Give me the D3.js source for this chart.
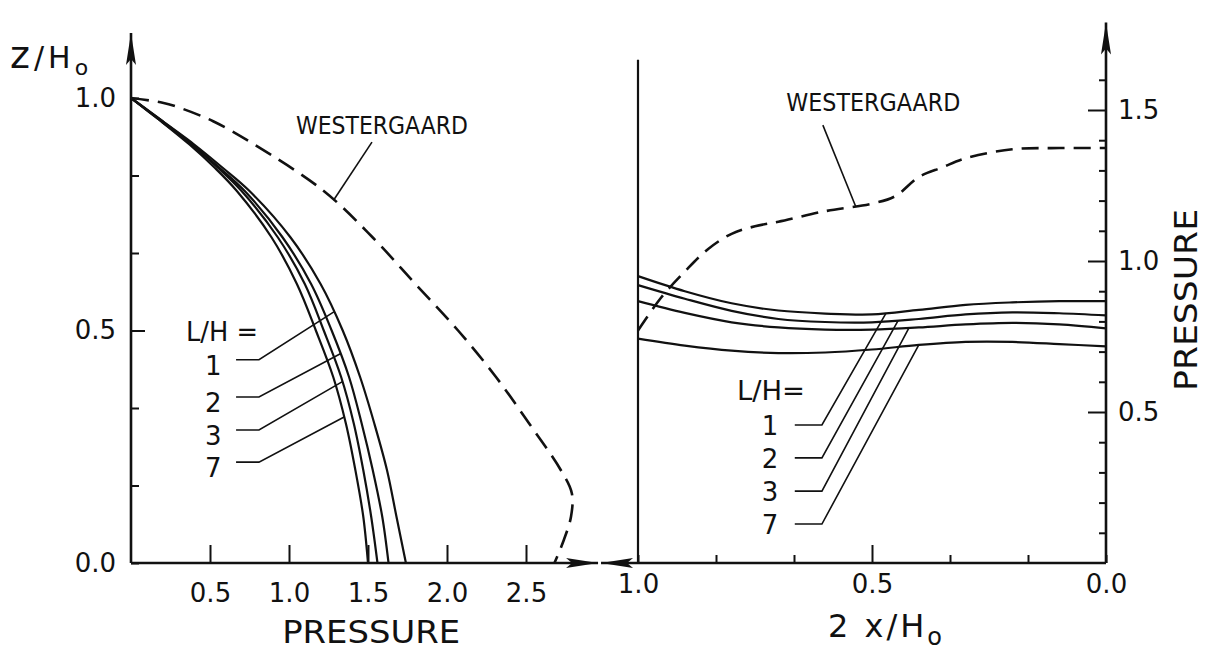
<!DOCTYPE html>
<html>
<head>
<meta charset="utf-8">
<script src="https://cdn.jsdelivr.net/npm/d3@7"></script>
<style>
  html, body { margin: 0; padding: 0; background: #fff; }
  svg { display: block; }
  text { font-family: 'DejaVu Sans', sans-serif; fill: #111; }
</style>
</head>
<body>
<svg id="chart" width="1208" height="656"></svg>
<script>
// ---- Left panel: pressure on the dam face versus height z/Ho ----
const depthLevels     = [1.0, 0.95, 0.9, 0.85, 0.8, 0.7, 0.6, 0.5, 0.4, 0.3, 0.2, 0.1, 0.0];
const facePressureLH1 = [0, 0.20, 0.40, 0.58, 0.75, 1.01, 1.20, 1.34, 1.45, 1.54, 1.62, 1.68, 1.74];
const facePressureLH2 = [0, 0.20, 0.39, 0.56, 0.72, 0.96, 1.14, 1.27, 1.38, 1.46, 1.53, 1.59, 1.63];
const facePressureLH3 = [0, 0.19, 0.38, 0.55, 0.70, 0.93, 1.10, 1.22, 1.33, 1.41, 1.47, 1.52, 1.56];
const facePressureLH7 = [0, 0.19, 0.37, 0.53, 0.67, 0.89, 1.05, 1.17, 1.28, 1.36, 1.42, 1.47, 1.50];

const westergaardDepth = [1.0, 0.99, 0.98, 0.95, 0.9, 0.8, 0.7, 0.6, 0.5, 0.4, 0.3, 0.2, 0.15, 0.1, 0.05, 0.0];
const westergaardFace  = [0, 0.20, 0.30, 0.52, 0.78, 1.22, 1.53, 1.80, 2.07, 2.31, 2.52, 2.72, 2.79, 2.785, 2.74, 2.68];

// ---- Right panel: pressure along the base versus 2x/Ho ----
const spanPositions   = [1.0, 0.9, 0.8, 0.7, 0.6, 0.5, 0.4, 0.3, 0.2, 0.1, 0.0];
const basePressureLH1 = [0.950, 0.900, 0.860, 0.836, 0.826, 0.823, 0.838, 0.855, 0.863, 0.867, 0.867];
const basePressureLH2 = [0.920, 0.875, 0.835, 0.808, 0.798, 0.797, 0.808, 0.823, 0.830, 0.827, 0.820];
const basePressureLH3 = [0.867, 0.828, 0.797, 0.780, 0.773, 0.773, 0.780, 0.790, 0.795, 0.790, 0.777];
const basePressureLH7 = [0.743, 0.720, 0.703, 0.695, 0.697, 0.707, 0.722, 0.732, 0.732, 0.725, 0.717];

const westergaardSpan = [1.0, 0.95, 0.9, 0.85, 0.8, 0.75, 0.7, 0.6, 0.5, 0.45, 0.4, 0.35, 0.3, 0.2, 0.1, 0.0];
const westergaardBase = [0.77, 0.88, 0.965, 1.04, 1.09, 1.115, 1.13, 1.165, 1.19, 1.215, 1.278, 1.31, 1.34, 1.37, 1.374, 1.374];

// ---- Labels and ticks ----
const ratioLabels      = ["1", "2", "3", "7"];
const leftPressureTicks = [0.5, 1.0, 1.5, 2.0, 2.5];
const heightTicks      = [0, 1, 2, 3, 4, 5, 6].map(i => i / 6);
const spanTicks        = [0, 1, 2, 3, 4, 5, 6].map(i => i / 6);
const basePressureTicks = d3.range(1, 17).map(i => i / 10);
const labelledRatioTicks = [0, 0.5, 1];
const labelledPressureTicks = [0.5, 1.0, 1.5];

// ---- Scales ----
const xL = d3.scaleLinear().domain([0, 2.5]).range([131, 526]);
const yL = d3.scaleLinear().domain([0, 1]).range([563, 98]);
const xR = d3.scaleLinear().domain([1, 0]).range([638, 1106]);
const yR = d3.scaleLinear().domain([0, 1]).range([563, 261]);

const svg = d3.select("#chart");
const ink = "#111";
const fmt = d3.format(".1f");
const near = (a, list) => list.some(v => Math.abs(v - a) < 1e-9);

function styleAxis(sel) {
  sel.select(".domain").remove();
  sel.selectAll(".tick line").attr("stroke", ink).attr("stroke-width", 2);
  sel.selectAll(".tick text").style("font-size", "26px").attr("fill", ink)
     .style("font-family", "'DejaVu Sans', sans-serif");
}

function arrowHead(tx, ty, dx, dy, len = 32, half = 5) {
  const px = -dy, py = dx;
  const bx = tx - dx * len, by = ty - dy * len;
  const nx = tx - dx * (len - 6), ny = ty - dy * (len - 6);
  return `M${tx},${ty} L${bx + px * half},${by + py * half} L${nx},${ny} L${bx - px * half},${by - py * half} Z`;
}

// ---------- LEFT PANEL ----------
const left = svg.append("g");

// axis lines with arrows
left.append("line").attr("x1", xL(0)).attr("y1", yL(0)).attr("x2", xL(2.956)).attr("y2", yL(0))
  .attr("stroke", ink).attr("stroke-width", 2.6);
left.append("path").attr("d", arrowHead(xL(2.956), yL(0), 1, 0)).attr("fill", ink);
left.append("line").attr("x1", xL(0)).attr("y1", yL(0)).attr("x2", xL(0)).attr("y2", yL(1.14))
  .attr("stroke", ink).attr("stroke-width", 2.6);
left.append("path").attr("d", arrowHead(xL(0), yL(1.14), 0, -1)).attr("fill", ink);

// x axis (pressure)
const lxAxis = left.append("g").attr("transform", `translate(0,${yL(0)})`)
  .call(d3.axisBottom(xL).tickValues(leftPressureTicks).tickSize(-18).tickPadding(21).tickFormat(fmt));
styleAxis(lxAxis);

// y axis (z/Ho)
const lyAxis = left.append("g").attr("transform", `translate(${xL(0)},0)`)
  .call(d3.axisLeft(yL).tickValues(heightTicks).tickSize(-8).tickPadding(15)
    .tickFormat(d => near(d, labelledRatioTicks) ? fmt(d) : ""));
styleAxis(lyAxis);
lyAxis.selectAll(".tick").filter(d => Math.abs(d - 0.5) < 1e-9).select("line").attr("x2", 14);

// curves
const faceLine = d3.line().x(d => xL(d[0])).y(d => yL(d[1])).curve(d3.curveCatmullRom.alpha(0.5));
const faceSets = [facePressureLH1, facePressureLH2, facePressureLH3, facePressureLH7];
faceSets.forEach(arr => {
  left.append("path").attr("d", faceLine(d3.zip(arr, depthLevels)))
    .attr("fill", "none").attr("stroke", ink).attr("stroke-width", 2.2);
});
left.append("path").attr("d", faceLine(d3.zip(westergaardFace, westergaardDepth)))
  .attr("fill", "none").attr("stroke", ink).attr("stroke-width", 2.6).attr("stroke-dasharray", "18,9");

// WESTERGAARD label and leader
left.append("text").attr("x", xL(1.044)).attr("y", yL(0.9226))
  .style("font-size", "24px").attr("textLength", 172).attr("lengthAdjust", "spacingAndGlyphs")
  .text("WESTERGAARD");
{
  const zEnd = 0.78;
  const pEnd = d3.scaleLinear().domain(westergaardDepth).range(westergaardFace)(zEnd);
  left.append("line").attr("x1", xL(1.525)).attr("y1", yL(0.905)).attr("x2", xL(pEnd)).attr("y2", yL(zEnd))
    .attr("stroke", ink).attr("stroke-width", 1.6);
}

// L/H legend with leaders
left.append("text").attr("x", xL(0.576)).attr("y", yL(0.50) + 10).attr("text-anchor", "middle")
  .style("font-size", "26px").attr("textLength", 72).attr("lengthAdjust", "spacingAndGlyphs").text("L/H =");
const leftLabelZ = [0.426, 0.346, 0.275, 0.206];
const leftLeaderZ = [0.54, 0.45, 0.39, 0.314];
ratioLabels.forEach((lab, i) => {
  const z = leftLabelZ[i];
  left.append("text").attr("x", xL(0.52)).attr("y", yL(z) + 10).attr("text-anchor", "middle")
    .style("font-size", "26px").text(lab);
  const zEnd = leftLeaderZ[i];
  const pEnd = d3.scaleLinear().domain(depthLevels).range(faceSets[i])(zEnd);
  const pts = [[xL(0.665), yL(z + 0.011)], [xL(0.81), yL(z + 0.011)], [xL(pEnd), yL(zEnd)]];
  left.append("path").attr("d", d3.line()(pts)).attr("fill", "none").attr("stroke", ink).attr("stroke-width", 1.6);
});

left.append("text").attr("x", xL(1.52)).attr("y", 643).attr("text-anchor", "middle")
  .style("font-size", "32px").attr("textLength", 178).attr("lengthAdjust", "spacingAndGlyphs").text("PRESSURE");

const zTitle = svg.append("text").attr("x", 10).attr("y", 68).style("font-size", "30px").style("letter-spacing", "4px");
zTitle.append("tspan").style("font-size", "38px").text("z");
zTitle.append("tspan").text("/H");
zTitle.append("tspan").attr("dy", 7).style("font-size", "22px").text("o");

// ---------- RIGHT PANEL ----------
const right = svg.append("g");

right.append("line").attr("x1", xR(1.079)).attr("y1", yR(0)).attr("x2", xR(0)).attr("y2", yR(0))
  .attr("stroke", ink).attr("stroke-width", 2.6);
right.append("path").attr("d", arrowHead(xR(1.079), yR(0), -1, 0)).attr("fill", ink);
right.append("line").attr("x1", xR(1)).attr("y1", yR(0)).attr("x2", xR(1)).attr("y2", yR(1.666))
  .attr("stroke", ink).attr("stroke-width", 2.2);
right.append("line").attr("x1", xR(0)).attr("y1", yR(0)).attr("x2", xR(0)).attr("y2", yR(1.79))
  .attr("stroke", ink).attr("stroke-width", 2.6);
right.append("path").attr("d", arrowHead(xR(0), yR(1.79), 0, -1)).attr("fill", ink);

const rxAxis = right.append("g").attr("transform", `translate(0,${yR(0)})`)
  .call(d3.axisBottom(xR).tickValues(spanTicks).tickSize(-8).tickPadding(12)
    .tickFormat(d => near(d, labelledRatioTicks) ? fmt(d) : ""));
styleAxis(rxAxis);
rxAxis.selectAll(".tick").filter(d => Math.abs(d - 0.5) < 1e-9).select("line").attr("y2", -18);

const ryAxis = right.append("g").attr("transform", `translate(${xR(0)},0)`)
  .call(d3.axisRight(yR).tickValues(basePressureTicks).tickSize(-7).tickPadding(12)
    .tickFormat(d => near(d, labelledPressureTicks) ? fmt(d) : ""));
styleAxis(ryAxis);
ryAxis.selectAll(".tick").filter(d => near(d, labelledPressureTicks)).select("line").attr("x2", -18);

const baseLine = d3.line().x(d => xR(d[0])).y(d => yR(d[1])).curve(d3.curveCatmullRom.alpha(0.5));
const baseSets = [basePressureLH1, basePressureLH2, basePressureLH3, basePressureLH7];
baseSets.forEach(arr => {
  right.append("path").attr("d", baseLine(d3.zip(spanPositions, arr)))
    .attr("fill", "none").attr("stroke", ink).attr("stroke-width", 2.2);
});
right.append("path").attr("d", baseLine(d3.zip(westergaardSpan, westergaardBase)))
  .attr("fill", "none").attr("stroke", ink).attr("stroke-width", 2.6).attr("stroke-dasharray", "17,9");

right.append("text").attr("x", xR(0.683)).attr("y", yR(1.497))
  .style("font-size", "24px").attr("textLength", 174).attr("lengthAdjust", "spacingAndGlyphs")
  .text("WESTERGAARD");
{
  const uEnd = 0.535;
  const pEnd = d3.scaleLinear().domain(westergaardSpan).range(westergaardBase)(uEnd);
  right.append("line").attr("x1", xR(0.605)).attr("y1", yR(1.45)).attr("x2", xR(uEnd)).attr("y2", yR(pEnd))
    .attr("stroke", ink).attr("stroke-width", 1.6);
}

right.append("text").attr("x", xR(0.716)).attr("y", yR(0.573) + 10).attr("text-anchor", "middle")
  .style("font-size", "26px").attr("textLength", 68).attr("lengthAdjust", "spacingAndGlyphs").text("L/H=");
const rightLabelP = [0.457, 0.348, 0.238, 0.129];
const rightLeaderU = [0.47, 0.444, 0.421, 0.40];
ratioLabels.forEach((lab, i) => {
  const p = rightLabelP[i];
  right.append("text").attr("x", xR(0.718)).attr("y", yR(p) + 10).attr("text-anchor", "middle")
    .style("font-size", "26px").text(lab);
  const uEnd = rightLeaderU[i];
  const pEnd = d3.scaleLinear().domain(spanPositions).range(baseSets[i])(uEnd);
  const pts = [[xR(0.665), yR(p)], [xR(0.607), yR(p)], [xR(uEnd), yR(pEnd)]];
  right.append("path").attr("d", d3.line()(pts)).attr("fill", "none").attr("stroke", ink).attr("stroke-width", 1.6);
});

const xTitle = svg.append("text").attr("x", 828).attr("y", 637).style("font-size", "32px").style("letter-spacing", "3px");
xTitle.append("tspan").text("2 x/H");
xTitle.append("tspan").attr("dy", 8).style("font-size", "24px").text("o");

svg.append("text").attr("transform", "translate(1197,300) rotate(-90)").attr("text-anchor", "middle")
  .style("font-size", "32px").attr("textLength", 182).attr("lengthAdjust", "spacingAndGlyphs").text("PRESSURE");
</script>
</body>
</html>
